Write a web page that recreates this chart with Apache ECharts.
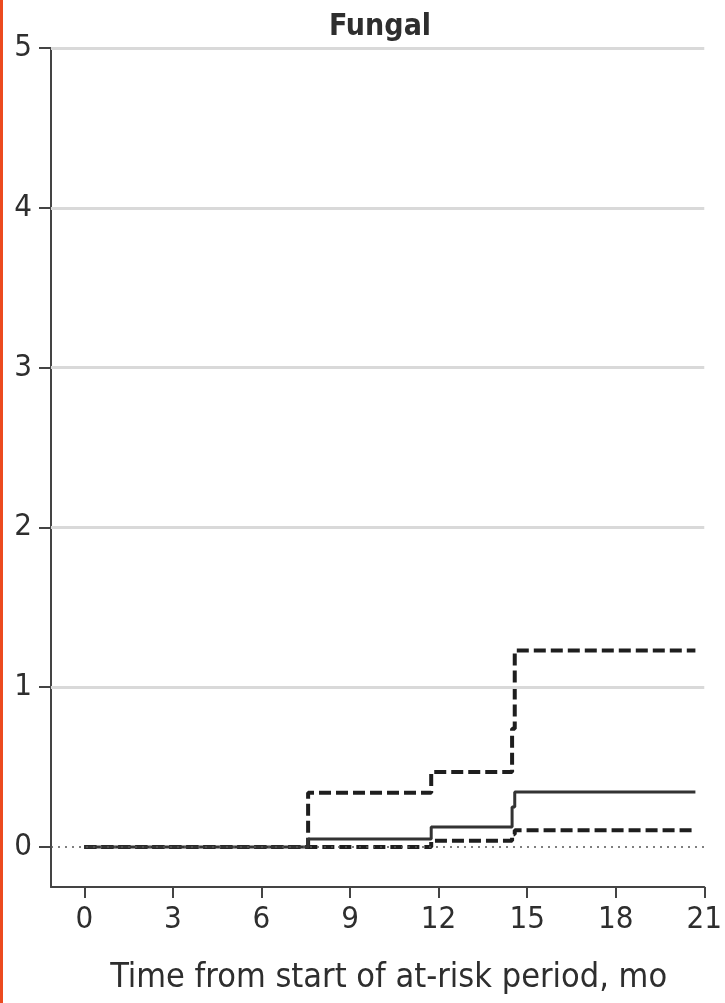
<!DOCTYPE html>
<html>
<head>
<meta charset="utf-8">
<script src="https://cdn.jsdelivr.net/npm/echarts@6/dist/echarts.min.js"></script>
<style>
  html, body { margin: 0; padding: 0; background: #fff; }
  #chart { width: 725px; height: 1003px; }
</style>
</head>
<body>
<div id="chart"></div>
<script>
// Cumulative incidence of fungal infection (%), step estimate with 95% CI
const times    = [0, 7.58, 11.75, 14.49, 14.58, 20.70];
const estimate = [0, 0.05, 0.125, 0.25, 0.345, 0.345];
const upperCI  = [0, 0.34, 0.47, 0.74, 1.23, 1.23];
const lowerCI  = [0, 0, 0.04, 0.08, 0.105, 0.105];

const xTicks = [0, 3, 6, 9, 12, 15, 18, 21];
const yTicks = [0, 1, 2, 3, 4, 5];
const gridValues = [1, 2, 3, 4, 5];

const titleText = 'Fungal';
const xAxisTitle = 'Time from start of at-risk period, mo';

const FONT = "'Liberation Sans Narrow', 'DejaVu Sans Condensed', 'Liberation Sans', sans-serif";
const TEXT = '#2e2e2e';

const pairs = (ys) => times.map((t, i) => [t, ys[i]]);

const chart = echarts.init(document.getElementById('chart'), null, { renderer: 'canvas' });

chart.setOption({
  animation: false,
  backgroundColor: '#ffffff',
  grid: { left: 51, right: 17, top: 48, bottom: 116, containLabel: false },
  graphic: [
    { type: 'rect', left: 0, top: 0, shape: { width: 3, height: 1003 }, style: { fill: '#ec4a1f' } },
    {
      type: 'text', x: 380, y: 27,
      style: { text: titleText, fill: TEXT, font: '600 30px ' + FONT, textAlign: 'center', textVerticalAlign: 'middle' }
    }
  ],
  xAxis: {
    type: 'value', min: -1.13, max: 21,
    axisLine: { show: true, onZero: false, lineStyle: { color: '#444', width: 2 } },
    axisTick: { show: true, customValues: xTicks, length: 11, lineStyle: { color: '#444', width: 2 } },
    axisLabel: { customValues: xTicks, color: TEXT, fontSize: 31, fontFamily: FONT, margin: 17 },
    splitLine: { show: false },
    name: xAxisTitle, nameLocation: 'middle', nameGap: 74,
    nameTextStyle: { color: TEXT, fontSize: 34, fontFamily: FONT, padding: [0, 0, 0, 22] }
  },
  yAxis: {
    type: 'value', min: -0.25, max: 5,
    axisLine: { show: true, onZero: false, lineStyle: { color: '#444', width: 2 } },
    axisTick: { show: true, customValues: yTicks, length: 12, lineStyle: { color: '#444', width: 2 } },
    axisLabel: { customValues: yTicks, color: TEXT, fontSize: 31, fontFamily: FONT, margin: 19 },
    splitLine: { show: false }
  },
  series: [
    {
      name: 'grid', type: 'line', data: [], silent: true,
      markLine: {
        silent: true, symbol: 'none', label: { show: false },
        lineStyle: { color: '#d9d9d9', width: 3, type: 'solid' },
        data: gridValues.map(v => ({ yAxis: v }))
      }
    },
    {
      name: 'zero', type: 'line', data: [], silent: true,
      markLine: {
        silent: true, symbol: 'none', label: { show: false },
        lineStyle: { color: '#555', width: 1.5, type: [2, 5] },
        data: [{ yAxis: 0 }]
      }
    },
    {
      name: 'Upper 95% CI', type: 'line', step: 'end', showSymbol: false,
      data: pairs(upperCI),
      lineStyle: { color: '#1e1e1e', width: 4, type: [12, 5] }
    },
    {
      name: 'Lower 95% CI', type: 'line', step: 'end', showSymbol: false,
      data: pairs(lowerCI),
      lineStyle: { color: '#1e1e1e', width: 4, type: [12, 5] }
    },
    {
      name: 'Estimate', type: 'line', step: 'end', showSymbol: false,
      data: pairs(estimate),
      lineStyle: { color: '#333', width: 3 }
    }
  ]
});
</script>
</body>
</html>
